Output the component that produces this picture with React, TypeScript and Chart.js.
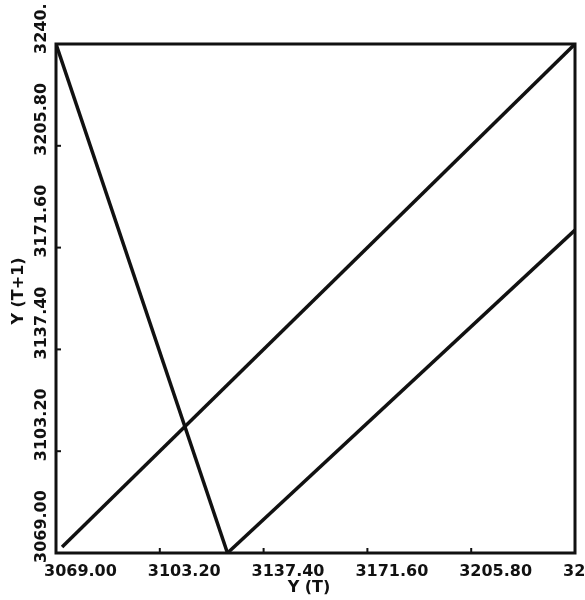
import React, { useEffect, useRef } from "react";
import { Chart, registerables } from "chart.js";

Chart.register(...registerables);

const xTickValues = [3069.0, 3103.2, 3137.4, 3171.6, 3205.8, 3240.0];
const xTickLabels = ["3069.00", "3103.20", "3137.40", "3171.60", "3205.80", "3240."];
const yTickValues = [3069.0, 3103.2, 3137.4, 3171.6, 3205.8, 3240.0];
const yTickLabels = ["3069.00", "3103.20", "3137.40", "3171.60", "3205.80", "3240."];

const diagonalLine = [
  { x: 3071.0, y: 3071.0 },
  { x: 3240.0, y: 3240.0 },
];
const steepLine = [
  { x: 3069.0, y: 3240.0 },
  { x: 3125.5, y: 3069.0 },
];
const lowerLine = [
  { x: 3125.5, y: 3069.0 },
  { x: 3240.0, y: 3177.5 },
];

const xTitle = "Y (T)";
const yTitle = "Y (T+1)";

const FONT = "bold 16px 'DejaVu Sans', sans-serif";

const framePlugin = {
  id: "framePlugin",
  afterDraw(chart: any) {
    const { ctx, chartArea } = chart;
    const xs = chart.scales.x;
    const ys = chart.scales.y;
    ctx.save();
    ctx.strokeStyle = "#111";
    ctx.lineWidth = 3;
    ctx.strokeRect(chartArea.left, chartArea.top, chartArea.right - chartArea.left, chartArea.bottom - chartArea.top);

    // inward tick marks
    ctx.lineWidth = 2;
    xTickValues.forEach((v) => {
      const px = xs.getPixelForValue(v);
      ctx.beginPath();
      ctx.moveTo(px, chartArea.bottom);
      ctx.lineTo(px, chartArea.bottom - 5);
      ctx.stroke();
    });
    yTickValues.forEach((v) => {
      const py = ys.getPixelForValue(v);
      ctx.beginPath();
      ctx.moveTo(chartArea.left, py);
      ctx.lineTo(chartArea.left + 5, py);
      ctx.stroke();
    });

    ctx.fillStyle = "#111";
    ctx.font = FONT;
    ctx.textBaseline = "top";
    ctx.textAlign = "left";
    xTickValues.forEach((v, i) => {
      const px = xs.getPixelForValue(v);
      ctx.fillText(xTickLabels[i], px - 12, chartArea.bottom + 11);
    });

    yTickValues.forEach((v, i) => {
      const py = ys.getPixelForValue(v);
      ctx.save();
      ctx.translate(42, py + 10);
      ctx.rotate(-Math.PI / 2);
      ctx.textBaseline = "middle";
      ctx.textAlign = "left";
      ctx.fillText(yTickLabels[i], 0, 0);
      ctx.restore();
    });

    // axis titles
    ctx.textAlign = "center";
    ctx.textBaseline = "middle";
    ctx.fillText(xTitle, 309, 588);
    ctx.save();
    ctx.translate(19, 291);
    ctx.rotate(-Math.PI / 2);
    ctx.fillText(yTitle, 0, 0);
    ctx.restore();
    ctx.restore();
  },
};

export default function App() {
  const ref = useRef<HTMLCanvasElement | null>(null);
  useEffect(() => {
    document.body.style.margin = "0";
    if (!ref.current) return;
    const lineStyle = {
      borderColor: "#111",
      borderWidth: 3.5,
      pointRadius: 0,
      fill: false,
      tension: 0,
    };
    const chart = new Chart(ref.current, {
      type: "scatter",
      data: {
        datasets: [
          { ...lineStyle, data: diagonalLine, showLine: true },
          { ...lineStyle, data: steepLine, showLine: true },
          { ...lineStyle, data: lowerLine, showLine: true },
        ],
      },
      options: {
        animation: false,
        responsive: false,
        devicePixelRatio: 1,
        layout: { padding: { left: 56, top: 44, right: 10, bottom: 47 } },
        plugins: { legend: { display: false }, tooltip: { enabled: false } },
        scales: {
          x: {
            type: "linear",
            display: false,
            min: 3069,
            max: 3240,
          },
          y: {
            type: "linear",
            display: false,
            min: 3069,
            max: 3240,
          },
        },
      },
      plugins: [framePlugin],
    });
    return () => chart.destroy();
  }, []);
  return <canvas ref={ref} width={585} height={600} style={{ display: "block" }} />;
}
